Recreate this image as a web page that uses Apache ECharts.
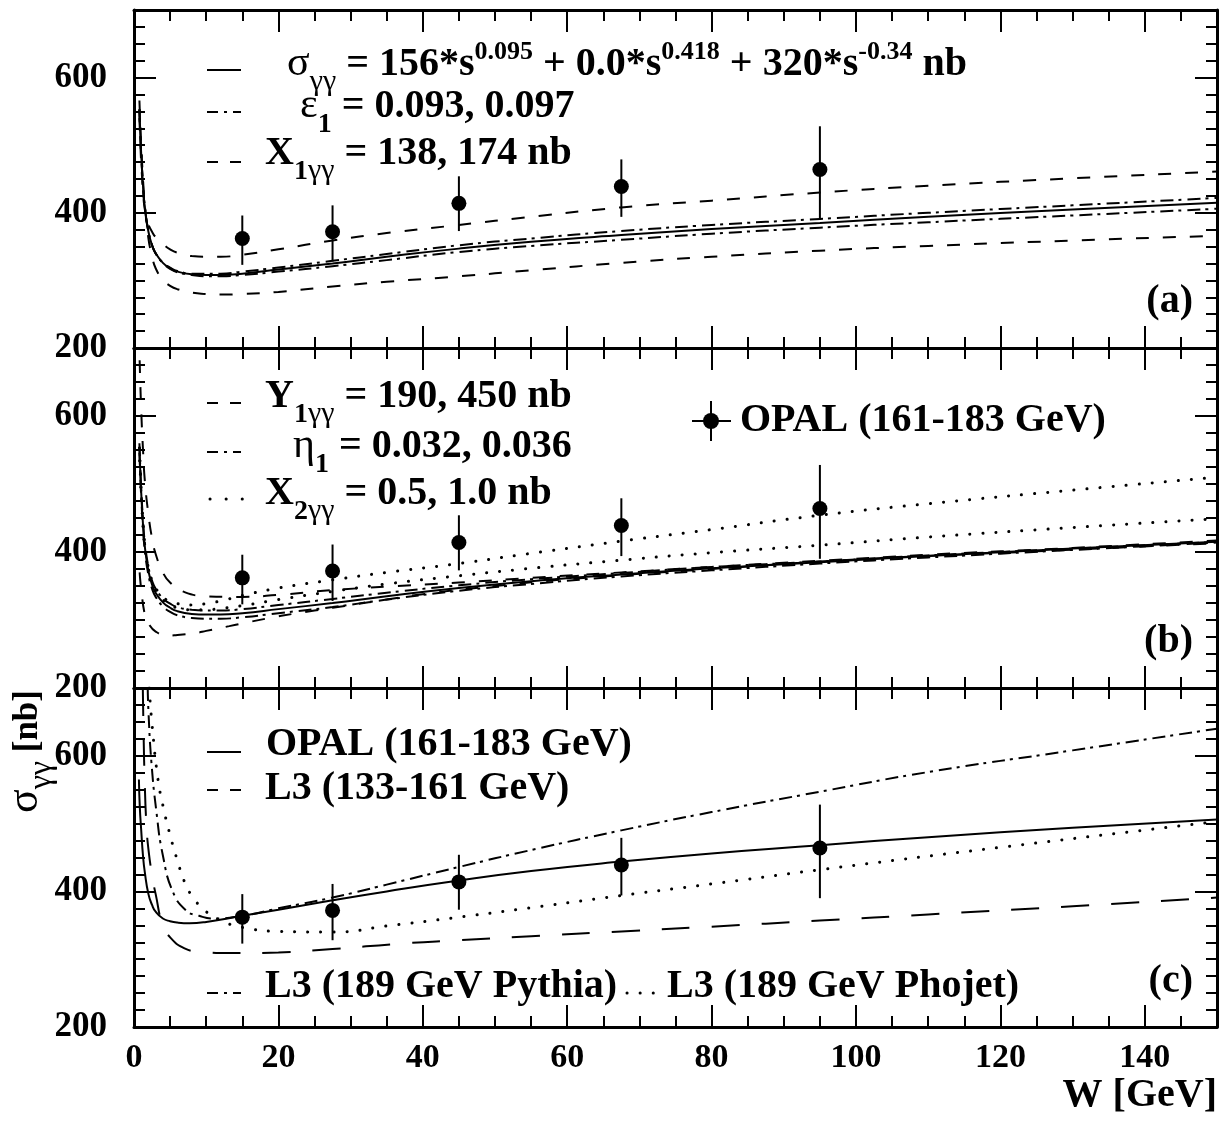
<!DOCTYPE html>
<html>
<head>
<meta charset="utf-8">
<script src="https://cdn.jsdelivr.net/npm/echarts@6/dist/echarts.min.js"></script>
<style>
  html, body { margin: 0; padding: 0; background: #fff; }
  #chart { width: 1222px; height: 1135px; }
</style>
</head>
<body>
<div id="chart"></div>
<script>
// ---- OPAL total cross-section measurements (W in GeV, sigma in nb) ----
const ptW     = [15, 27.5, 45, 67.5, 95];
const ptSigma = [362, 372, 414, 439, 464];
const ptLow   = [323, 328, 373, 394, 390];
const ptHigh  = [396, 411, 454, 479, 528];

// ---- Fit curves, panels (a) and (b) ----
const fitW   = [0.75, 0.9, 1, 1.25, 1.5, 2, 2.5, 3, 4, 5, 6, 8, 10, 12, 15, 20, 27.5, 35, 45, 55, 67.5, 80, 95, 110, 130, 150];
const fitS   = [553, 510, 487, 440, 408, 372, 352, 340, 326, 318, 313, 309, 308, 308, 310, 316, 325, 335, 347, 357, 367, 376, 385, 394, 405, 415];
// (a) epsilon_1 variations
const eps093 = [553, 510, 487, 440, 408, 372, 352, 340, 326, 317, 312, 308, 306, 306, 308, 313, 321, 330, 342, 351, 360, 369, 378, 386, 396, 406];
const eps097 = [553, 510, 487, 440, 408, 372, 352, 340, 326, 319, 314, 310, 310, 310, 313, 319, 329, 339, 352, 362, 373, 382, 391, 400, 411, 422];
// (a) X_1gg variations
const x1g174 = [540, 497, 474, 432, 405, 383, 372, 364, 354, 346, 341, 336, 335, 335, 338, 346, 359, 370, 382, 394, 408, 418, 430, 440, 451, 461];
const x1g138 = [566, 523, 500, 449, 412, 362, 336, 318, 301, 292, 287, 282, 280, 279, 280, 283, 291, 298, 306, 315, 326, 335, 344, 351, 359, 366];
// (b) Y_1gg variations
const y1g450W = [0.78, 1, 1.25, 1.5, 2, 2.5, 3, 4, 5, 7, 10, 13, 15, 20, 27.5, 35, 45, 55, 67.5, 80, 95, 110, 130, 150];
const y1g450S = [682, 608, 550, 505, 455, 420, 397, 370, 355, 341, 335, 334, 334, 337, 344, 349, 355, 362, 370, 378, 387, 396, 406, 417];
const y1g190W = [0.78, 1, 1.5, 2, 3, 4.7, 6, 8.6, 10, 13.2, 15, 18.8, 22, 25, 30, 35, 40, 50, 60, 80, 100, 125, 150];
const y1g190S = [370, 345, 308, 295, 283, 277, 278, 281, 284, 291, 295, 303, 309, 314, 322, 330, 338, 350, 360, 375, 389, 401, 413];
// (b) eta_1 variations
const eta032 = [560, 516, 493, 446, 414, 378, 358, 346, 332, 324, 319, 315, 314, 314, 316, 322, 331, 340, 351, 360, 369, 378, 386, 395, 405, 415];
const eta036 = [546, 504, 481, 434, 402, 366, 346, 334, 320, 312, 307, 303, 302, 302, 304, 310, 319, 330, 343, 353, 364, 373, 383, 392, 403, 414];
// (b) X_2gg variations
const x2g10  = [553, 510, 487, 441, 410, 376, 358, 347, 334, 327, 324, 322, 324, 328, 336, 347, 359, 370, 383, 398, 416, 433, 454, 471, 491, 510];
const x2g05  = [553, 510, 487, 440, 409, 374, 355, 344, 330, 322, 318, 315, 315, 317, 321, 330, 342, 353, 365, 376, 388, 399, 410, 422, 436, 449];

// ---- Panel (c): experiment comparison ----
const opalW   = [0.68, 0.8, 1, 1.25, 1.5, 2, 2.5, 3, 4, 5, 6, 7.7, 10, 15, 20, 27.5, 35, 45, 55, 67.5, 80, 95, 110, 130, 150];
const opalS   = [565, 525, 490, 452, 428, 396, 380, 370, 360, 356, 354, 353, 355, 364, 373, 387, 400, 416, 430, 444, 456, 468, 480, 494, 506];
const l3aW    = [1.22, 1.35, 1.47, 1.7, 2, 2.6, 3, 4, 5.2, 7, 9, 13.7, 20, 27.5, 37, 45, 55, 67.5, 80, 95, 110, 130, 150];
const l3aS    = [700, 620, 567, 502, 462, 418, 396, 350, 330, 316, 311, 309, 310, 315, 323, 328, 334, 341, 348, 357, 366, 378, 391];
const pythiaW = [1.9, 2, 2.4, 3.1, 4, 5.4, 7.2, 9, 11, 15, 20, 27.5, 35, 45, 55, 67.5, 80, 95, 110, 130, 150];
const pythiaS = [700, 666, 592, 518, 453, 399, 372, 364, 360, 364, 375, 391, 410, 436, 461, 490, 517, 547, 576, 608, 640];
const phojetW = [2.1, 2.5, 3.3, 4, 5, 6, 7, 8, 10, 12.5, 15, 20, 27.5, 35, 45, 55, 67.5, 80, 95, 120, 150];
const phojetS = [700, 646, 567, 527, 483, 446, 414, 394, 370, 355, 347, 341, 340, 349, 362, 376, 394, 411, 432, 465, 503];

// ---- axis ranges ----
const W_MIN = 0, W_MAX = 150, W_MAJOR = 20, W_MINOR = 5;
const S_MIN = 200, S_MAX = 700, S_MAJOR = 200, S_MINOR = 25;

// ---------------------------------------------------------------
const FONT = '"Liberation Serif", "Times New Roman", Times, serif';
const PANELS = [
  { top: 10,  height: 338 },
  { top: 348, height: 340 },
  { top: 688, height: 339 }
];
const GRID_LEFT = 134, GRID_WIDTH = 1083;

const SOLID    = 'solid';
const DASHED   = [13, 14];
const LONGDASH = [28, 22];
const DASHDOT  = [13, 5, 3, 6];
const DOTTED   = [0.1, 13];

function xAx(g, pos, major, labels) {
  return {
    type: 'value', gridIndex: g, position: pos,
    min: W_MIN, max: W_MAX, interval: major ? W_MAJOR : W_MINOR,
    axisLine: { show: major, onZero: false, lineStyle: { color: '#000', width: 3 } },
    axisTick: { show: true, inside: true, length: major ? 22 : 11, lineStyle: { color: '#000', width: 2 } },
    axisLabel: { show: labels, margin: 14, showMaxLabel: false, color: '#000',
                 fontFamily: FONT, fontWeight: 'bold', fontSize: 34 },
    splitLine: { show: false }, minorTick: { show: false }, axisPointer: { show: false }
  };
}
function yAx(g, pos, major, labels) {
  return {
    type: 'value', gridIndex: g, position: pos,
    min: S_MIN, max: S_MAX, interval: major ? S_MAJOR : S_MINOR,
    axisLine: { show: major, onZero: false, lineStyle: { color: '#000', width: 3 } },
    axisTick: { show: true, inside: true, length: major ? 22 : 11, lineStyle: { color: '#000', width: 2 } },
    axisLabel: { show: labels, margin: 27, showMaxLabel: false, color: '#000',
                 fontFamily: FONT, fontWeight: 'bold', fontSize: 35 },
    splitLine: { show: false }, minorTick: { show: false }, axisPointer: { show: false }
  };
}

const grids = [], xAxes = [], yAxes = [];
PANELS.forEach((p, g) => {
  grids.push({ left: GRID_LEFT, width: GRID_WIDTH, top: p.top, height: p.height,
               containLabel: false, outerBoundsMode: 'none' });
  xAxes.push(xAx(g, 'bottom', true, g === 2), xAx(g, 'bottom', false, false),
             xAx(g, 'top', true, false), xAx(g, 'top', false, false));
  yAxes.push(yAx(g, 'left', true, true), yAx(g, 'left', false, false),
             yAx(g, 'right', true, false), yAx(g, 'right', false, false));
});

function curve(g, W, S, dash) {
  const dotted = dash === DOTTED;
  return {
    type: 'line', xAxisIndex: 4 * g, yAxisIndex: 4 * g,
    data: W.map((w, i) => [w, S[i]]),
    smooth: 0.5, showSymbol: false, symbol: 'none',
    clip: true, silent: true, animation: false, z: 3,
    lineStyle: { color: '#000', width: dotted ? 3 : 2, type: dash, cap: dotted ? 'round' : 'butt', opacity: 1 }
  };
}
function dataPoints(g) {
  return [
    {
      type: 'custom', xAxisIndex: 4 * g, yAxisIndex: 4 * g, silent: true, animation: false, z: 4,
      data: ptW.map((w, i) => [w, ptLow[i], ptHigh[i]]),
      encode: { x: 0, y: [1, 2] },
      renderItem: (params, api) => {
        const a = api.coord([api.value(0), api.value(1)]);
        const b = api.coord([api.value(0), api.value(2)]);
        return { type: 'line', shape: { x1: a[0], y1: a[1], x2: b[0], y2: b[1] },
                 style: { stroke: '#000', lineWidth: 2 } };
      }
    },
    {
      type: 'scatter', xAxisIndex: 4 * g, yAxisIndex: 4 * g, silent: true, animation: false, z: 5,
      data: ptW.map((w, i) => [w, ptSigma[i]]),
      symbol: 'circle', symbolSize: 15, itemStyle: { color: '#000', opacity: 1 }
    }
  ];
}

const series = [
  // (a)
  curve(0, fitW, fitS, SOLID),
  curve(0, fitW, eps093, DASHDOT),
  curve(0, fitW, eps097, DASHDOT),
  curve(0, fitW, x1g174, DASHED),
  curve(0, fitW, x1g138, DASHED),
  ...dataPoints(0),
  // (b)
  curve(1, fitW, fitS, SOLID),
  curve(1, y1g450W, y1g450S, DASHED),
  curve(1, y1g190W, y1g190S, DASHED),
  curve(1, fitW, eta032, DASHDOT),
  curve(1, fitW, eta036, DASHDOT),
  curve(1, fitW, x2g10, DOTTED),
  curve(1, fitW, x2g05, DOTTED),
  ...dataPoints(1),
  // (c)
  curve(2, opalW, opalS, SOLID),
  curve(2, l3aW, l3aS, LONGDASH),
  curve(2, pythiaW, pythiaS, DASHDOT),
  curve(2, phojetW, phojetS, DOTTED),
  ...dataPoints(2)
];

// ---- text with sub/superscripts, laid out from measured glyph widths ----
const measureCtx = document.createElement('canvas').getContext('2d');
const STY = {
  m:    { size: 40, weight: 'bold',   dy: 0 },
  g:    { size: 42, weight: 'normal', dy: 0 },
  sub:  { size: 28, weight: 'bold',   dy: 14 },
  subg: { size: 30, weight: 'normal', dy: 14 },
  sup:  { size: 26, weight: 'bold',   dy: -17 },
  tm:   { size: 35, weight: 'bold',   dy: 0 },
  tg:   { size: 44, weight: 'normal', dy: 0 },
  tsub: { size: 32, weight: 'normal', dy: 12 }
};
function runElements(x0, base, parts) {
  const out = [];
  let cx = x0;
  parts.forEach(([k, t]) => {
    const s = STY[k];
    const font = s.weight + ' ' + s.size + 'px ' + FONT;
    measureCtx.font = font;
    const w = measureCtx.measureText(t).width;
    out.push({
      type: 'text', x: cx, y: base + s.dy - 0.3375 * s.size, silent: true,
      style: { text: t, font: font, fill: '#000', align: 'left', verticalAlign: 'middle',
               textAlign: 'left', textVerticalAlign: 'middle' }
    });
    cx += w;
  });
  return { els: out, width: cx - x0 };
}
function textLine(x0, base, parts) { return runElements(x0, base, parts).els; }
function textRight(xr, base, parts) {
  const w = runElements(0, base, parts).width;
  return runElements(xr - w, base, parts).els;
}
function sample(x1, x2, y, dash, dotGap) {
  const dotted = dash === DOTTED;
  return {
    type: 'line', silent: true,
    shape: { x1: x1, y1: y, x2: x2, y2: y },
    style: { stroke: '#000', lineWidth: dotted ? 3 : 2,
             lineDash: dash === SOLID ? null : (dotted ? [0.1, dotGap || 16] : (dash === DASHED ? [11, 12] : [11, 6, 3, 6])),
             lineCap: dotted ? 'round' : 'butt' }
  };
}

const graphics = [
  // panel (a) legend
  sample(207, 241, 70, SOLID),
  ...textLine(287, 78, [['g', 'σ'], ['subg', 'γγ'], ['m', ' = 156*s'], ['sup', '0.095'],
                        ['m', ' + 0.0*s'], ['sup', '0.418'], ['m', ' + 320*s'], ['sup', '-0.34'], ['m', ' nb']]),
  sample(207, 241, 112, DASHDOT),
  ...textLine(300, 120, [['g', 'ε'], ['sub', '1'], ['m', ' = 0.093, 0.097']]),
  sample(207, 241, 162, DASHED),
  ...textLine(265, 167, [['m', 'X'], ['sub', '1'], ['subg', 'γγ'], ['m', ' = 138, 174 nb']]),
  ...textRight(1193, 315, [['m', '(a)']]),

  // panel (b) legend
  sample(207, 241, 403, DASHED),
  ...textLine(265, 410, [['m', 'Y'], ['sub', '1'], ['subg', 'γγ'], ['m', ' = 190, 450 nb']]),
  sample(207, 241, 452, DASHDOT),
  ...textLine(293, 460, [['g', 'η'], ['sub', '1'], ['m', ' = 0.032, 0.036']]),
  sample(210, 243, 499, DOTTED),
  ...textLine(265, 507, [['m', 'X'], ['sub', '2'], ['subg', 'γγ'], ['m', ' = 0.5, 1.0 nb']]),
  { type: 'line', silent: true, shape: { x1: 692, y1: 421, x2: 731, y2: 421 }, style: { stroke: '#000', lineWidth: 2 } },
  { type: 'line', silent: true, shape: { x1: 711, y1: 401, x2: 711, y2: 441 }, style: { stroke: '#000', lineWidth: 2 } },
  { type: 'circle', silent: true, shape: { cx: 711, cy: 421, r: 8 }, style: { fill: '#000' } },
  ...textLine(740, 434, [['m', 'OPAL (161-183 GeV)']]),
  ...textRight(1193, 655, [['m', '(b)']]),

  // panel (c) legend
  sample(207, 241, 752, SOLID),
  ...textLine(266, 758, [['m', 'OPAL (161-183 GeV)']]),
  sample(207, 241, 790, DASHED),
  ...textLine(265, 802, [['m', 'L3 (133-161 GeV)']]),
  sample(207, 241, 993, DASHDOT),
  ...textLine(265, 1000, [['m', 'L3 (189 GeV Pythia)']]),
  sample(627, 655, 993, DOTTED, 13),
  ...textLine(667, 1000, [['m', 'L3 (189 GeV Phojet)']]),
  ...textRight(1193, 995, [['m', '(c)']]),

  // axis titles
  ...textRight(1217, 1109, [['m', 'W [GeV]']]),
  {
    type: 'group', x: 40, y: 813, rotation: Math.PI / 2, silent: true,
    children: textLine(0, 0, [['tg', 'σ'], ['tsub', 'γγ'], ['tm', ' [nb]']])
  }
];

const chart = echarts.init(document.getElementById('chart'), null, { renderer: 'canvas' });
chart.setOption({
  animation: false,
  backgroundColor: '#fff',
  grid: grids,
  xAxis: xAxes,
  yAxis: yAxes,
  series: series,
  graphic: { elements: graphics }
});
</script>
</body>
</html>
